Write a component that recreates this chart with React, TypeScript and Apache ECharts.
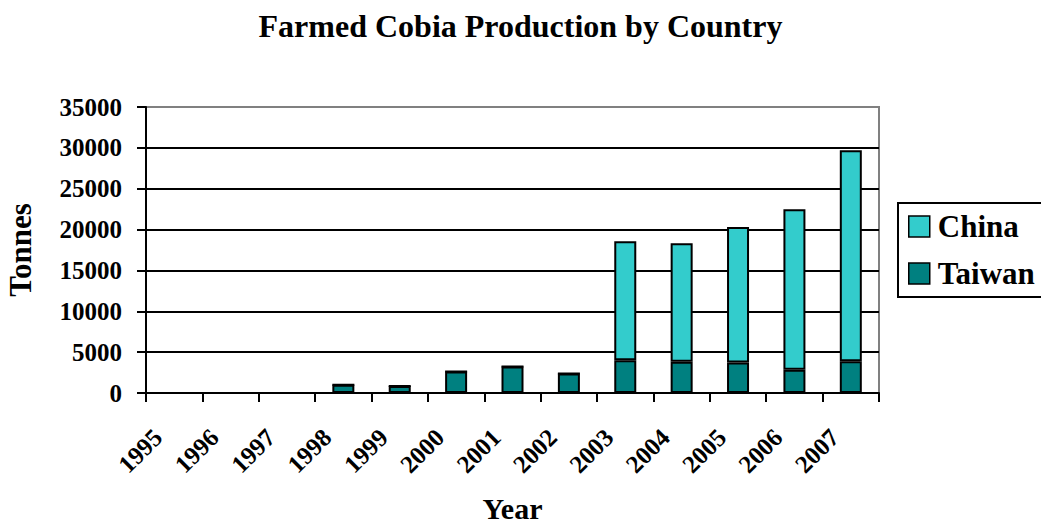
import React, { useEffect, useRef } from "react";
import * as echarts from "echarts";

const years = ["1995", "1996", "1997", "1998", "1999", "2000", "2001", "2002", "2003", "2004", "2005", "2006", "2007"];
const taiwan = [0, 0, 0, 1000, 850, 2630, 3240, 2390, 4020, 3820, 3730, 2840, 3900];
const china = [0, 0, 0, 0, 0, 0, 0, 0, 14550, 14510, 16570, 19660, 25800];
const yMin = 0;
const yMax = 35000;
const yInterval = 5000;

const FONT = "Liberation Serif";

export default function App() {
  const ref = useRef<HTMLDivElement>(null);
  useEffect(() => {
    if (!ref.current) return;
    const chart = echarts.init(ref.current, undefined, { renderer: "svg" });
    chart.setOption({
      animation: false,
      backgroundColor: "#ffffff",
      title: {
        text: "Farmed Cobia Production by Country",
        left: "center",
        top: 5,
        textStyle: { fontFamily: FONT, fontWeight: "bold", fontSize: 32, color: "#000" },
      },
      legend: {
        data: ["China", "Taiwan"],
        orient: "vertical",
        left: 898,
        top: 203,
        itemWidth: 21,
        itemHeight: 21,
        itemGap: 16,
        padding: [8, 20, 8, 10],
        borderColor: "#000",
        borderWidth: 2,
        icon: "rect",
        itemStyle: { borderColor: "#000", borderWidth: 1.5 },
        textStyle: { fontFamily: FONT, fontWeight: "bold", fontSize: 31, color: "#000", padding: [0, 0, 0, 3] },
      },
      grid: {
        left: 146,
        width: 733,
        top: 107,
        height: 286,
        outerBoundsMode: "none",
        containLabel: false,
        show: true,
        borderColor: "#808080",
        borderWidth: 2,
        backgroundColor: "transparent",
      },
      xAxis: {
        type: "category",
        data: years,
        name: "Year",
        nameLocation: "middle",
        nameGap: 100,
        nameTextStyle: { fontFamily: FONT, fontWeight: "bold", fontSize: 30, color: "#000" },
        axisLine: { lineStyle: { color: "#000", width: 2 } },
        axisTick: { show: true, length: 9, lineStyle: { color: "#000", width: 2 } },
        axisLabel: {
          interval: 0,
          rotate: 45,
          margin: 24,
          padding: [0, 23, 0, 0],
          fontFamily: FONT,
          fontWeight: "bold",
          fontSize: 25,
          color: "#000",
        },
      },
      yAxis: {
        type: "value",
        min: yMin,
        max: yMax,
        interval: yInterval,
        name: "Tonnes",
        nameLocation: "middle",
        nameGap: 110,
        nameTextStyle: { fontFamily: FONT, fontWeight: "bold", fontSize: 31, color: "#000" },
        axisLine: { show: true, lineStyle: { color: "#000", width: 2 } },
        axisTick: { show: true, length: 9, lineStyle: { color: "#000", width: 2 } },
        axisLabel: {
          margin: 24,
          fontFamily: FONT,
          fontWeight: "bold",
          fontSize: 25,
          color: "#000",
          formatter: (v: number) => String(v),
        },
        splitLine: { show: true, showMaxLine: false, lineStyle: { color: "#000", width: 2 } },
      },
      series: [
        {
          name: "Taiwan",
          type: "bar",
          stack: "total",
          data: taiwan,
          barWidth: 22,
          itemStyle: { color: "#008080", borderColor: "#000", borderWidth: 2 },
        },
        {
          name: "China",
          type: "bar",
          stack: "total",
          data: china,
          barWidth: 22,
          itemStyle: { color: "#33CCCC", borderColor: "#000", borderWidth: 2 },
        },
      ],
    });
    return () => chart.dispose();
  }, []);
  return (
    <div
      ref={ref}
      style={{ position: "fixed", left: 0, top: 0, width: 1041, height: 525, background: "#fff" }}
    />
  );
}
